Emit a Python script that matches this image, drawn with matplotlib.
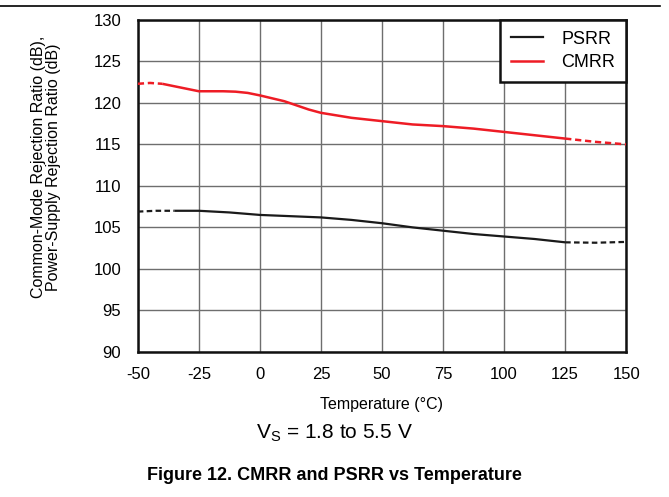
import matplotlib
matplotlib.use("Agg")
import matplotlib.pyplot as plt
from matplotlib.lines import Line2D

plt.rcParams["font.family"] = ["Liberation Sans", "DejaVu Sans"]

# values
temp_ticks = [-50, -25, 0, 25, 50, 75, 100, 125, 150]
db_ticks = [90, 95, 100, 105, 110, 115, 120, 125, 130]

cmrr_temp = [-50, -45, -40, -30, -25, -15, -10, -5, 0, 10, 20, 25, 37.5, 50,
             62.5, 75, 87.5, 100, 112.5, 125, 137.5, 150]
cmrr_db = [122.3, 122.4, 122.3, 121.7, 121.4, 121.4, 121.35, 121.2, 120.9, 120.2,
           119.2, 118.8, 118.2, 117.8, 117.4, 117.2, 116.9, 116.5, 116.1, 115.7,
           115.3, 115.0]
cmrr_solid = (-40, 125)

psrr_temp = [-50, -42.5, -35, -25, -12.5, 0, 12.5, 25, 37.5, 50, 62.5, 75, 87.5,
             100, 112.5, 125, 137.5, 150]
psrr_db = [106.9, 107.0, 107.0, 107.0, 106.8, 106.5, 106.35, 106.2, 105.9, 105.5,
           105.0, 104.6, 104.2, 103.9, 103.6, 103.2, 103.15, 103.25]
psrr_solid = (-35, 125)


def plot_series(ax, temps, values, solid, color, lw):
    lo, hi = solid
    pre = [(t, v) for t, v in zip(temps, values) if t <= lo]
    mid = [(t, v) for t, v in zip(temps, values) if lo <= t <= hi]
    post = [(t, v) for t, v in zip(temps, values) if t >= hi]
    for seg, style in ((pre, (0, (2.5, 1.5))), (mid, "-"), (post, (0, (2.5, 1.5)))):
        if len(seg) > 1:
            xs, ys = zip(*seg)
            ax.plot(xs, ys, color=color, lw=lw, linestyle=style, solid_capstyle="butt",
                    dash_capstyle="butt", zorder=3)


fig = plt.figure(figsize=(6.69, 4.97), dpi=100)
ax = fig.add_axes([0.206, 0.292, 0.73, 0.668])

plot_series(ax, psrr_temp, psrr_db, psrr_solid, "#1a1a1a", 1.6)
plot_series(ax, cmrr_temp, cmrr_db, cmrr_solid, "#ee1c25", 1.8)

ax.set_xlim(-50, 150)
ax.set_ylim(90, 130)
ax.set_xticks(temp_ticks)
ax.set_yticks(db_ticks)
ax.set_xticklabels([str(t) for t in temp_ticks])
ax.set_yticklabels([str(t) for t in db_ticks])
ax.tick_params(length=0, labelsize=12)
ax.tick_params(axis="x", pad=11)
ax.tick_params(axis="y", pad=12)
ax.grid(True, color="#6e6e6e", lw=1.0)
ax.set_axisbelow(True)
for sp in ax.spines.values():
    sp.set_linewidth(1.8)
    sp.set_color("#111111")

ax.set_xlabel("Temperature (°C)", fontsize=11.5, labelpad=11)
ax.set_ylabel("Common-Mode Rejection Ratio (dB),\nPower-Supply Rejection Ratio (dB)",
              fontsize=11.5, linespacing=1.0, va="center")
ax.yaxis.set_label_coords(-0.189, 0.557)

handles = [Line2D([], [], color="#1a1a1a", lw=1.6), Line2D([], [], color="#ee1c25", lw=1.8)]
leg = ax.legend(handles, ["PSRR", "CMRR"], loc="upper right", fontsize=13,
                fancybox=False, framealpha=1, edgecolor="#111111",
                borderaxespad=0, handlelength=1.8, borderpad=0.6, labelspacing=0.35,
                handletextpad=1.0)
leg.get_frame().set_linewidth(1.8)

fig.text(0.5, 0.128, "V$_\\mathregular{S}$ = 1.8 to 5.5 V", ha="center", va="center",
         fontsize=15)
fig.text(0.5, 0.044, "Figure 12. CMRR and PSRR vs Temperature", ha="center", va="center",
         fontsize=13, fontweight="bold")
fig.add_artist(Line2D([0.0, 0.987], [0.988, 0.988], color="black", lw=1.2))

fig.savefig("out.png", dpi=100)
